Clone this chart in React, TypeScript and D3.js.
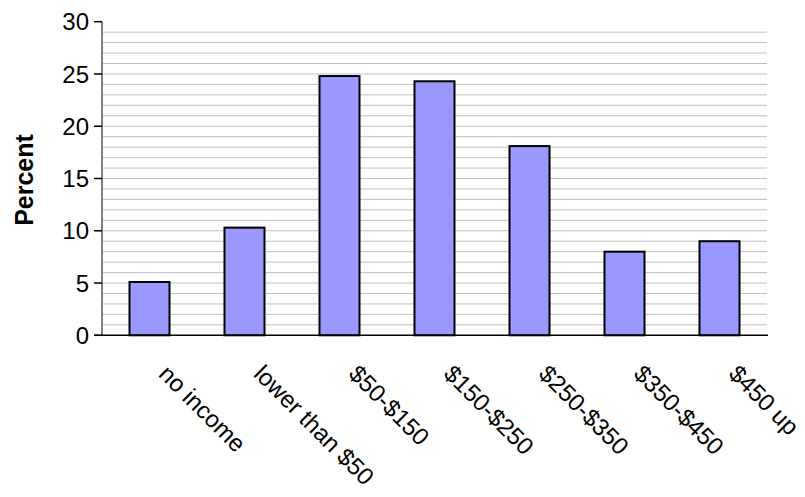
import React from "react";
import * as d3 from "d3";

const categories = ["no income", "lower than $50", "$50-$150", "$150-$250", "$250-$350", "$350-$450", "$450 up"];
const percents = [5.1, 10.3, 24.8, 24.3, 18.1, 8.0, 9.0];
const yTicks = [0, 5, 10, 15, 20, 25, 30];
const gridValues = d3.range(1, 30);

export default function App() {
  const W = 805, H = 497;
  const left = 102, right = 767, top = 21.7, bottom = 335.3;
  const x = d3.scaleBand<string>().domain(categories).range([left, right]).paddingInner(0).paddingOuter(0);
  const y = d3.scaleLinear().domain([0, 30]).range([bottom, top]);
  const barW = 40;
  const font = "'Liberation Sans', Arial, sans-serif";
  return (
    <svg width={W} height={H} style={{ position: "absolute", left: 0, top: 0, background: "#fff" }}>
      {gridValues.map((v) => (
        <line key={"g" + v} x1={left} x2={right} y1={y(v)} y2={y(v)} stroke="#c0c0c0" strokeWidth={1} />
      ))}
      {categories.map((c, i) => (
        <rect key={c} x={x(c)! + x.bandwidth() / 2 - barW / 2} y={y(percents[i])} width={barW}
          height={y(0) - y(percents[i])} fill="#9999ff" stroke="#000" strokeWidth={2} />
      ))}
      <line x1={left} x2={left} y1={top} y2={bottom} stroke="#808080" strokeWidth={2} />
      {yTicks.map((t) => (
        <g key={"t" + t}>
          <line x1={left - 8} x2={left} y1={y(t)} y2={y(t)} stroke="#000" strokeWidth={1.5} />
          <text x={89} y={y(t)} dy="0.36em" textAnchor="end" fontFamily={font} fontSize={24} fill="#000">{t}</text>
        </g>
      ))}
      <line x1={left - 8} x2={right + 1} y1={bottom} y2={bottom} stroke="#000" strokeWidth={1.5} />
      <text transform={`translate(33,180) rotate(-90)`} textAnchor="middle" fontFamily={font}
        fontWeight="bold" fontSize={25} fill="#000">Percent</text>
      {categories.map((c) => {
        const cx = x(c)! + x.bandwidth() / 2;
        return (
          <text key={"l" + c} transform={`translate(${cx + 8},${bottom + 40}) rotate(45)`} textAnchor="start"
            fontFamily={font} fontSize={24} fill="#000">{c}</text>
        );
      })}
    </svg>
  );
}
